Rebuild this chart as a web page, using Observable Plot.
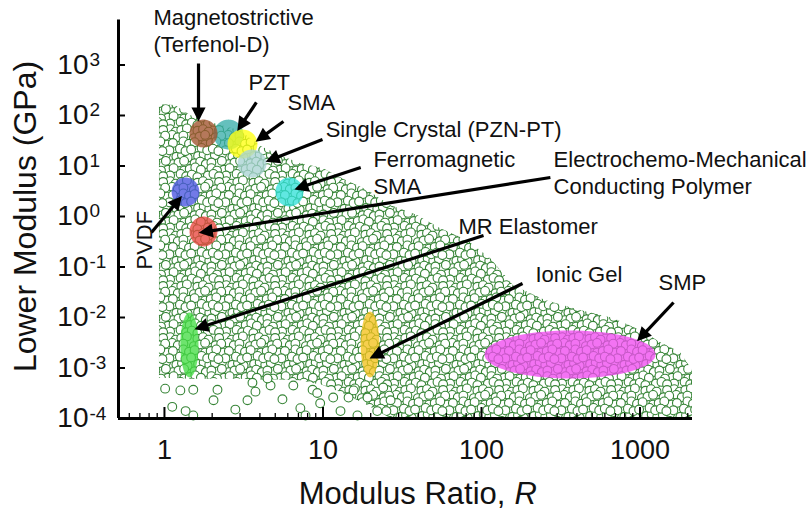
<!DOCTYPE html>
<html><head><meta charset="utf-8">
<script src="https://cdn.jsdelivr.net/npm/d3@7"></script>
<script src="https://cdn.jsdelivr.net/npm/@observablehq/plot@0.6"></script>
<style>html,body{margin:0;padding:0;background:#fff;}</style>
</head><body><div id="chart"></div>
<script>
// ---- axis extents ----
const xMin = 0.513, xMax = 2143, yMin = 1e-4, yMax = 8330;

// ---- envelope of the design-space cloud (Modulus ratio R, lower modulus GPa) ----
const cloudR   = [0.93, 1.17, 1.46, 1.95, 3.0, 4.0, 5.4, 7.2, 10, 13.9, 19.1, 26.7, 39.5, 55, 82, 114, 159, 253, 421, 681, 1007, 1347, 1798, 2143];
const cloudTop = [165, 158, 100, 73, 50, 25, 16, 11.2, 8.9, 5.2, 3.3, 1.65, 1.05, 0.58, 0.33, 0.147, 0.043, 0.0217, 0.0138, 0.0095, 0.0055, 0.0032, 0.00203, 0.00089];
const cloudLow = [6.2e-4, 6.2e-4, 6.0e-4, 6.0e-4, 6.0e-4, 5.8e-4, 5.8e-4, 5.6e-4, 4.5e-4, 3.0e-4, 1.8e-4, 1e-4, 1e-4, 1e-4, 1e-4, 1e-4, 1e-4, 1e-4, 1e-4, 1e-4, 1e-4, 1e-4, 1e-4, 1e-4];

// ---- sparse points below the dense cloud ----
const sparseR = [1.01, 1.12, 1.26, 1.36, 1.52, 1.52, 2.16, 2.04, 2.8, 3.34, 3.59, 3.75, 4.67, 5.55, 4.47, 6.5, 7.2, 7.76, 8.6, 9.2, 9.6, 11.6, 12.9, 14.5, 15.6, 16.5, 19.1, 22, 24, 26.7];
const sparseE = [3.9e-4, 1.7e-4, 3.6e-4, 1.4e-4, 3.7e-4, 1.15e-4, 3.7e-4, 2.3e-4, 1.5e-4, 2.3e-4, 5.1e-4, 3.4e-4, 4.5e-4, 2.4e-4, 6.2e-4, 4.5e-4, 1.6e-4, 1.15e-4, 3.7e-4, 3.2e-4, 2.0e-4, 2.6e-4, 1.4e-4, 2.6e-4, 3.6e-4, 1.15e-4, 2.6e-4, 1.4e-4, 4.1e-4, 2.3e-4];

// ---- materials: property ranges ----
const matNames = ["Magnetostrictive", "PZT", "SMA", "Single Crystal", "Ferromagnetic SMA", "PVDF", "Conducting Polymer", "MR Elastomer", "Ionic Gel", "SMP"];
const matRLo = [1.44, 2.04, 2.50, 2.89, 5.01, 1.11, 1.44, 1.26, 17.3, 104.5];
const matRHi = [2.16, 3.15, 3.86, 4.40, 7.53, 1.66, 2.16, 1.64, 22.7, 1253];
const matELo = [23.2, 21.2, 14.1, 5.92, 1.58, 1.58, 0.255, 0.00065, 0.00065, 0.00062];
const matEHi = [83, 83, 52.8, 21.2, 5.92, 5.92, 1.0, 0.0126, 0.0131, 0.00553];
const matColors = ["#a0522d", "#3aaeaa", "#ffff10", "#a9d3d3", "#33e0d8", "#4a55e0", "#e8473f", "#45dd45", "#f4c21c", "#f04cf0"];
const drawOrder = [1, 0, 2, 3, 4, 5, 6, 7, 8, 9];

// ---- labels ----
const labelText = ["Magnetostrictive\n(Terfenol-D)", "PZT", "SMA", "Single Crystal (PZN-PT)", "Ferromagnetic\nSMA", "PVDF", "Electrochemo-Mechanical\nConducting Polymer", "MR Elastomer", "Ionic Gel", "SMP"];
const labelR = [0.853, 3.39, 5.97, 10.4, 20.8, 0.84, 285, 71.6, 219, 1309];
const labelE = [1850, 313, 131, 36.7, 2.85, 0.0892, 2.85, 0.46, 0.0516, 0.0343];

// ---- arrows (tail -> head) ----
const arrowR1 = [1.64, 3.80, 5.63, 9.93, 17.3, 0.828, 272, 103, 181.5, 1627];
const arrowE1 = [1070, 181, 76.0, 33.5, 9.34, 0.482, 5.92, 0.42, 0.0471, 0.0198];
const arrowR2 = [1.64, 2.98, 3.95, 4.6, 7.0, 1.24, 1.75, 1.64, 20.8, 1000];
const arrowE2 = [92, 58, 34.0, 13.0, 3.65, 2.2, 0.49, 0.0062, 0.00168, 0.0039];

// ---- ticks ----
const xTicks = [1, 10, 100, 1000];
const xTickLabels = ["1", "10", "100", "1000"];
const xMinor = [0.6, 0.7, 0.8, 0.9, 2, 3, 4, 5, 6, 7, 8, 9, 20, 30, 40, 50, 60, 70, 80, 90, 200, 300, 400, 500, 600, 700, 800, 900, 2000];
const yTicks = [1e-4, 1e-3, 1e-2, 1e-1, 1, 10, 100, 1000];
const yTickExp = ["-4", "-3", "-2", "-1", "0", "1", "2", "3"];

// ---- build tables ----
const cloud = cloudR.map((r, i) => ({r, lo: cloudLow[i], hi: cloudTop[i]}));
const sparse = sparseR.map((r, i) => ({r, e: sparseE[i]}));
const ellipse = i => {
  const cx = (Math.log10(matRLo[i]) + Math.log10(matRHi[i])) / 2, a = (Math.log10(matRHi[i]) - Math.log10(matRLo[i])) / 2;
  const cy = (Math.log10(matELo[i]) + Math.log10(matEHi[i])) / 2, b = (Math.log10(matEHi[i]) - Math.log10(matELo[i])) / 2;
  return d3.range(80).map(k => { const t = 2 * Math.PI * k / 80; return {r: 10 ** (cx + a * Math.cos(t)), e: 10 ** (cy + b * Math.sin(t))}; });
};
const labels = labelText.map((t, i) => ({t, r: labelR[i], e: labelE[i]}));
const arrows = arrowR1.map((r1, i) => ({r1, e1: arrowE1[i], r2: arrowR2[i], e2: arrowE2[i]}));
const yT = yTicks.map((v, i) => ({v, exp: yTickExp[i]}));

const font = "'Liberation Sans', Arial, Helvetica, sans-serif";
const green = "#368436";

const plot = Plot.plot({
  width: 809, height: 512,
  marginLeft: 118, marginRight: 117, marginTop: 18, marginBottom: 94,
  x: {type: "log", domain: [xMin, xMax], axis: null},
  y: {type: "log", domain: [yMin, yMax], axis: null},
  style: {fontFamily: font, background: "white", overflow: "visible", color: "#111"},
  marks: [
    Plot.areaY(cloud, {x: "r", y1: "lo", y2: "hi", fill: "url(#cloudPattern)", curve: "linear"}),
    Plot.dot(sparse, {x: "r", y: "e", r: 4.4, fill: "white", stroke: green, strokeWidth: 1.1}),
    ...drawOrder.map(i => Plot.line(ellipse(i), {x: "r", y: "e", fill: matColors[i], fillOpacity: 0.78, stroke: "none", curve: "linear-closed"})),
    Plot.link(arrows, {x1: "r1", y1: "e1", x2: "r2", y2: "e2", stroke: "#000", strokeWidth: 3.2, markerEnd: "arrow"}),
    // labels
    Plot.text(labels.filter((d, i) => i !== 5), {x: "r", y: "e", text: "t", textAnchor: "start", lineAnchor: "bottom", lineHeight: 1.2, fontSize: 22, fill: "#111"}),
    Plot.text([labels[5]], {x: "r", y: "e", text: "t", textAnchor: "start", lineAnchor: "bottom", rotate: -90, fontSize: 22, fill: "#111"}),
    // axes lines
    Plot.ruleX([xMin], {y1: yMin, y2: yMax, stroke: "#000", strokeWidth: 3, insetBottom: -1.5}),
    Plot.ruleY([yMin], {x1: xMin, x2: xMax, stroke: "#000", strokeWidth: 3}),
    // ticks
    Plot.ruleX(xTicks, {y1: yMin, y2: yMin, insetTop: -11, stroke: "#000", strokeWidth: 2}),
    Plot.ruleX(xMinor, {y1: yMin, y2: yMin, insetTop: -5, stroke: "#000", strokeWidth: 1.3}),
    Plot.ruleY(yTicks, {x1: xMin, x2: xMin, insetRight: -7, stroke: "#000", strokeWidth: 2}),
    // tick labels
    Plot.text(xTicks, {x: d => d, y: yMin, text: (d, i) => xTickLabels[i], dy: 40, lineAnchor: "bottom", fontSize: 27, fill: "#111"}),
    Plot.text(yT, {x: xMin, y: "v", text: () => "10", textAnchor: "end", dx: -30, lineAnchor: "middle", fontSize: 28, fill: "#111"}),
    Plot.text(yT, {x: xMin, y: "v", text: "exp", textAnchor: "start", dx: -29, dy: 1, lineAnchor: "bottom", fontSize: 19, fill: "#111"}),
    // axis titles
    Plot.text(["Lower Modulus (GPa)"], {x: xMin, y: 1, text: d => d, dx: -83, rotate: -90, lineAnchor: "bottom", fontSize: 32, fill: "#111"}),
    Plot.text(["Modulus Ratio,"], {x: 141.6, y: yMin, text: d => d, textAnchor: "end", dy: 85, lineAnchor: "bottom", fontSize: 31, fill: "#111"}),
    Plot.text(["R"], {x: 141.6, y: yMin, text: d => d, textAnchor: "start", dx: 9, dy: 85, lineAnchor: "bottom", fontSize: 31, fontStyle: "italic", fill: "#111"})
  ]
});

// ---- texture pattern for the cloud of candidate materials ----
const ns = "http://www.w3.org/2000/svg";
const TW = 56, TH = 52;
const defs = document.createElementNS(ns, "defs");
const pat = document.createElementNS(ns, "pattern");
pat.setAttribute("id", "cloudPattern");
pat.setAttribute("patternUnits", "userSpaceOnUse");
pat.setAttribute("width", TW);
pat.setAttribute("height", TH);
const bg = document.createElementNS(ns, "rect");
bg.setAttribute("width", TW); bg.setAttribute("height", TH); bg.setAttribute("fill", "white");
pat.appendChild(bg);
const centers = [];
for (let row = 0; row < 8; row++) for (let col = 0; col < 8; col++) {
  const k = row * 8 + col;
  const jx = (((k * 5) % 7) - 3) * 0.7;
  const jy = (((k * 3) % 5) - 2) * 0.8;
  centers.push([col * 7 + (row % 2) * 3.5 + jx, row * 6.5 + jy]);
}
for (const [cx, cy] of centers) {
  for (const ox of [-TW, 0, TW]) for (const oy of [-TH, 0, TH]) {
    const x = cx + ox, y = cy + oy;
    if (x < -6 || x > TW + 6 || y < -6 || y > TH + 6) continue;
    const c = document.createElementNS(ns, "circle");
    c.setAttribute("cx", x); c.setAttribute("cy", y); c.setAttribute("r", 4.4);
    c.setAttribute("fill", "white"); c.setAttribute("stroke", green); c.setAttribute("stroke-width", 1.1);
    pat.appendChild(c);
  }
}
defs.appendChild(pat);
plot.insertBefore(defs, plot.firstChild);
plot.querySelectorAll('g[aria-label="area"]').forEach(g => {
  g.setAttribute("fill", "url(#cloudPattern)");
  g.querySelectorAll("path").forEach(p => p.setAttribute("fill", "url(#cloudPattern)"));
});
// filled arrowheads
plot.querySelectorAll("marker").forEach(m => {
  m.setAttribute("fill", "#000");
  m.setAttribute("stroke", "none");
  const p = m.querySelector("path");
  if (p) p.setAttribute("d", "M-4.6,-3.3L2,0L-4.6,3.3Z");
});
document.getElementById("chart").appendChild(plot);
</script></body></html>
